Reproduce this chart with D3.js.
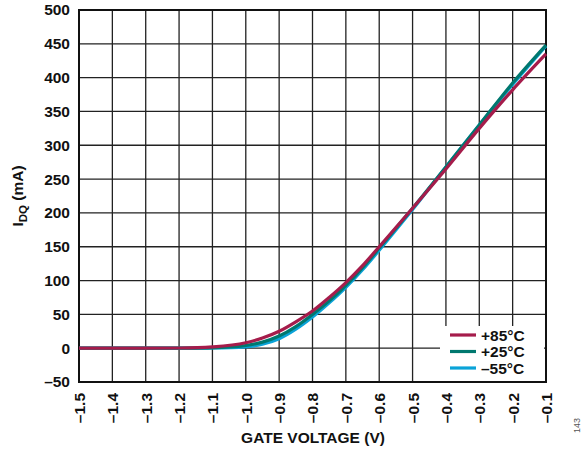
<!DOCTYPE html>
<html><head><meta charset="utf-8">
<script src="https://cdn.jsdelivr.net/npm/d3@7"></script>
<style>body{margin:0;background:#fff;}svg{display:block;font-family:"Liberation Sans",Arial,sans-serif;}</style>
</head><body><svg id="c" width="583" height="450"></svg>
<script>
const voltages = [-1.5,-1.4,-1.3,-1.2,-1.1,-1.0,-0.95,-0.9,-0.85,-0.8,-0.75,-0.7,-0.65,-0.6,-0.5,-0.4,-0.3,-0.2,-0.1];
const idq85 = [0,0,0,0.3,2,8,15,25,39,55,75,97,122,150,207,265,325,382,435];
const idq25 = [0,0,0,0,0.5,4,9,18,32,50,70,93,119,148,207,268,330,392,448];
const idqM55 = [0,0,0,0,0.3,2,6,14,28,46,67,90,116,145,205,268,330,390,447];
const xTicks = [-1.5,-1.4,-1.3,-1.2,-1.1,-1.0,-0.9,-0.8,-0.7,-0.6,-0.5,-0.4,-0.3,-0.2,-0.1];
const yTicks = [-50,0,50,100,150,200,250,300,350,400,450,500];
const seriesNames = ["+85°C","+25°C","\u201355°C"];
const colors = ["#a51c4b","#00786f","#0aa3d8"];

const FS = 15.5;
const svg = d3.select("#c");
const L=79,R=546,T=10,B=382;
const x = d3.scaleLinear().domain([-1.5,-0.1]).range([L,R]);
const y = d3.scaleLinear().domain([-50,500]).range([B,T]);
const g = svg.append("g");
// grid
g.selectAll(".vx").data(xTicks).join("line").attr("x1",d=>x(d)).attr("x2",d=>x(d)).attr("y1",T).attr("y2",B).attr("stroke","#222").attr("stroke-width",1.3);
g.selectAll(".hy").data(yTicks).join("line").attr("y1",d=>y(d)).attr("y2",d=>y(d)).attr("x1",L).attr("x2",R).attr("stroke","#222").attr("stroke-width",1.3);
g.append("rect").attr("x",L).attr("y",T).attr("width",R-L).attr("height",B-T).attr("fill","none").attr("stroke","#111").attr("stroke-width",2);

// axes labels
const fmtY = d=> (d<0? "\u2013"+Math.abs(d):String(d));
const fmtX = d=> "\u2013"+Math.abs(d).toFixed(1);
const yAxis = d3.axisLeft(y).tickValues(yTicks).tickSize(0).tickPadding(9).tickFormat(fmtY);
const ya = svg.append("g").attr("transform",`translate(${L},0)`).call(yAxis);
ya.select(".domain").remove();
ya.selectAll("text").attr("font-size",FS).attr("font-weight","bold").attr("fill","#111").attr("font-family","Liberation Sans, Arial, sans-serif");
const xAxis = d3.axisBottom(x).tickValues(xTicks).tickSize(0).tickFormat(fmtX);
const xa = svg.append("g").attr("transform",`translate(0,${B})`).call(xAxis);
xa.select(".domain").remove();
xa.selectAll("text").attr("font-size",FS).attr("font-weight","bold").attr("fill","#111").attr("font-family","Liberation Sans, Arial, sans-serif")
  .attr("transform","rotate(-90)").attr("text-anchor","end").attr("dy","0.35em").attr("x",-11).attr("y",0);

// curves
const series = [idq85, idq25, idqM55];
const line = d3.line().x((d,i)=>x(voltages[i])).y(d=>y(d)).curve(d3.curveMonotoneX);
[2,1,0].forEach(k=>{
  svg.append("path").datum(series[k]).attr("d",line).attr("fill","none").attr("stroke",colors[k]).attr("stroke-width",3.2).attr("stroke-linejoin","round");
});

// legend
const lg = svg.append("g");
lg.append("rect").attr("x",440).attr("y",326).attr("width",104).attr("height",55).attr("fill","#fff");
seriesNames.forEach((n,i)=>{
  const yy = 335+i*16.5;
  lg.append("line").attr("x1",450).attr("x2",476).attr("y1",yy).attr("y2",yy).attr("stroke",colors[i]).attr("stroke-width",3.2);
  lg.append("text").attr("x",481).attr("y",yy).attr("dy","0.36em").attr("font-size",FS).attr("font-weight","bold").attr("fill","#111").text(n);
});

// titles
svg.append("text").attr("x",313).attr("y",443).attr("text-anchor","middle").attr("font-size",FS).attr("font-weight","bold").attr("fill","#111").text("GATE VOLTAGE (V)");
const yl = svg.append("text").attr("transform","translate(23,196) rotate(-90)").attr("text-anchor","middle").attr("font-size",FS).attr("font-weight","bold").attr("fill","#111");
yl.append("tspan").text("I");
yl.append("tspan").attr("font-size",11.5).attr("dy",4).text("DQ");
yl.append("tspan").attr("dy",-4).text(" (mA)");
svg.append("text").attr("transform","translate(580,433) rotate(-90)").attr("font-size",9).attr("fill","#555").text("143");
</script></body></html>
